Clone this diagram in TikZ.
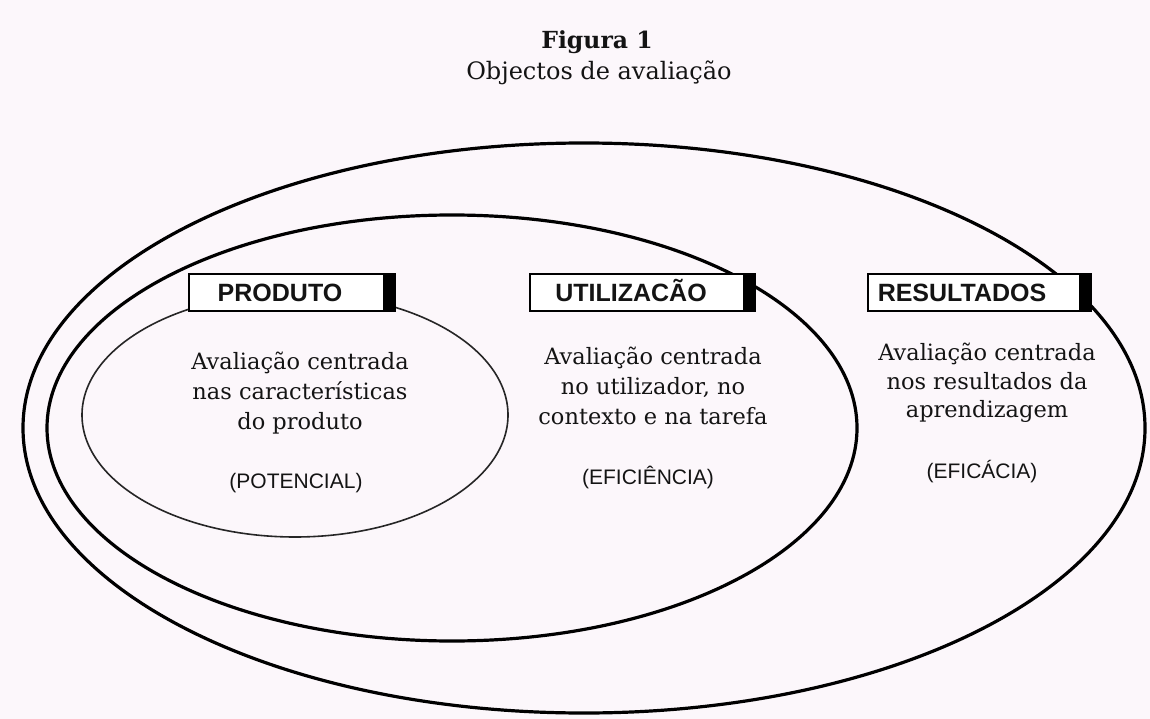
\documentclass[tikz,border=0pt]{standalone}
\usepackage{fontspec}
\setmainfont{DejaVu Serif}
\newfontfamily\lsans{Liberation Sans}
\definecolor{bg}{RGB}{252,247,251}
\definecolor{ink}{RGB}{20,20,20}
\begin{document}
\begin{tikzpicture}[x=1pt,y=-1pt,
  ring/.style={draw=black,line width=3.2pt},
  innerring/.style={draw=black!85,line width=1.6pt},
  labelbox/.style={draw=black,fill=white,line width=1.6pt,minimum height=37pt,inner sep=0pt},
  labeltext/.style={font=\lsans\bfseries\fontsize{25}{30}\selectfont,inner sep=0pt,text=ink,anchor=base},
  body/.style={font=\fontsize{22.5}{30}\selectfont,align=center,inner sep=0pt,text=ink},
  kind/.style={font=\lsans\fontsize{21}{25}\selectfont,inner sep=0pt,text=ink},
  titletext/.style={font=\fontsize{24}{28}\selectfont,inner sep=0pt,text=ink,anchor=base}]
\fill[bg] (0,0) rectangle (1150,719);
\useasboundingbox (0,0) rectangle (1150,719);

\node[titletext,font=\bfseries\fontsize{23.5}{28}\selectfont] (fig) at (597,49) {Figura 1};
\node[titletext] (sub) at (599,80) {Objectos de avaliação};

\draw[ring] (584,428) ellipse [x radius=561pt, y radius=285pt];
\draw[ring] (452,428) ellipse [x radius=405pt, y radius=213pt];
\draw[innerring] (295,415) ellipse [x radius=213pt, y radius=122pt];

\node[labelbox, minimum width=206pt] (pbox) at (292,292.5) {};
\fill (pbox.north east) rectangle ([xshift=-13pt]pbox.south east);
\node[labelbox, minimum width=225pt] (ubox) at (642.5,292.5) {};
\fill (ubox.north east) rectangle ([xshift=-13pt]ubox.south east);
\node[labelbox, minimum width=223pt] (rbox) at (979.5,292.5) {};
\fill (rbox.north east) rectangle ([xshift=-13pt]rbox.south east);

\node[labeltext] (plab) at (280,301) {PRODUTO};
\node[labeltext] (ulab) at (631,301) {UTILIZACÃO};
\node[labeltext] (rlab) at (962,301) {RESULTADOS};

\node[body] (ptxt) at (300,393) {Avaliação centrada\\nas características\\do produto};
\node[kind] (pkind) at (296,483) {(POTENCIAL)};
\node[body] (utxt) at (653,386) {Avaliação centrada\\no utilizador, no\\contexto e na tarefa};
\node[kind] (ukind) at (648,477) {(EFICIÊNCIA)};
\node[body,font=\fontsize{22.5}{28.5}\selectfont] (rtxt) at (987,383) {Avaliação centrada\\nos resultados da\\aprendizagem};
\node[kind] (rkind) at (982,472) {(EFICÁCIA)};
\end{tikzpicture}
\end{document}
